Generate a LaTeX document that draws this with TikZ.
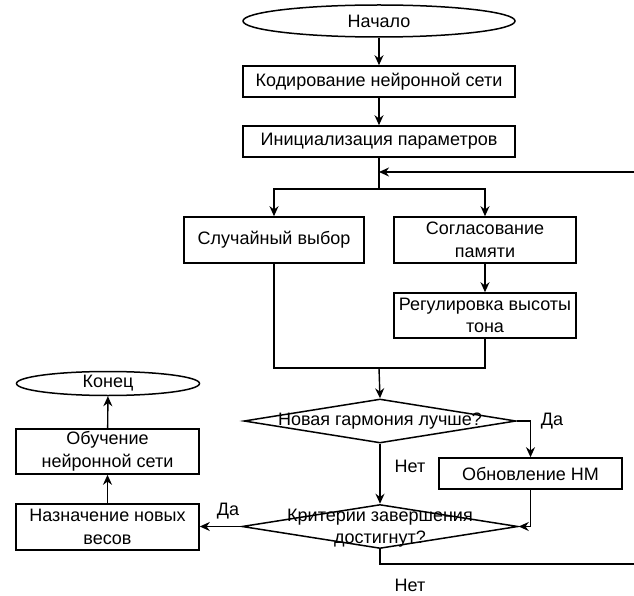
\documentclass[tikz,border=0pt]{standalone}
\usepackage{fontspec}
\setmainfont{Liberation Sans}
\usetikzlibrary{shapes.geometric,arrows.meta}
\begin{document}
\begin{tikzpicture}[x=1pt,y=-1pt,
  every node/.style={font=\fontsize{18}{22.5}\selectfont, inner sep=0pt},
  box/.style={draw, line width=1.6pt, rectangle, align=center},
  term/.style={draw, line width=1.5pt, ellipse},
  dia/.style={draw, line width=1.5pt, diamond},
  line/.style={line width=1.4pt},
  arr/.style={line, -{Stealth[length=10pt,width=9pt]}}
]
\useasboundingbox (0,0) rectangle (634,596);

\node[term, minimum width=272pt, minimum height=32pt] (start) at (379,21) {Начало};
\node[box, minimum width=272pt, minimum height=31pt] (code) at (379,81.5) {Кодирование нейронной сети};
\node[box, minimum width=272pt, minimum height=31pt] (init) at (379,141.5) {Инициализация параметров};
\coordinate (loopin) at (634,172);
\coordinate (split) at (379,189);
\node[box, minimum width=180pt, minimum height=46pt] (rand) at (274,240) {Случайный выбор};
\node[box, minimum width=182pt, minimum height=46pt] (harm) at (485,240) {Согласование\\памяти};
\node[box, minimum width=182pt, minimum height=45pt] (pitch) at (485,315.5) {Регулировка высоты\\тона};
\coordinate (join) at (379,368);
\node[dia, minimum width=272pt, minimum height=44pt] (d1) at (380,421) {};
\node (d1t) at (d1) {Новая гармония лучше?};
\node[box, minimum width=183pt, minimum height=31pt] (upd) at (530.5,473.5) {Обновление НМ};
\node[dia, minimum width=276pt, minimum height=44pt] (d2) at (380,526.5) {};
\node[align=center] (d2t) at (380,528) {Критерии завершения\\достигнут?};
\node[box, minimum width=183pt, minimum height=46pt] (assign) at (107.5,527) {Назначение новых\\весов};
\node[box, minimum width=183pt, minimum height=45pt] (train) at (107.5,451.5) {Обучение\\нейронной сети};
\node[term, minimum width=183pt, minimum height=24pt] (end) at (108,383.5) {Конец};
\coordinate (loopout) at (634,564);

\node (yes1) at (552,421) {Да};
\node (no1) at (410,466) {Нет};
\node (yes2) at (228,511) {Да};
\node (no2) at (410,585) {Нет};

\draw[arr] (start) -- (code);
\draw[arr] (code) -- (init);
\draw[line] (init.south) -- (split);
\draw[arr] (loopin) -- (init.south |- loopin);
\draw[arr] (split) -| (rand.north);
\draw[arr] (split) -| (harm.north);
\draw[arr] (harm) -- (pitch);
\draw[line] (rand.south) |- (join) -| (pitch.south);
\draw[arr] (join) -- (d1.north);
\draw[arr] (d1.east) -| (upd.north);
\draw[arr] (d1.south) -- (d2.north);
\draw[arr] (upd.south) |- (d2.east);
\draw[arr] (d2.west) -- (d2.west -| assign.east);
\draw[arr] (assign) -- (train);
\draw[arr] (train) -- (end);
\draw[line] (d2.south) |- (loopout);
\end{tikzpicture}
\end{document}
